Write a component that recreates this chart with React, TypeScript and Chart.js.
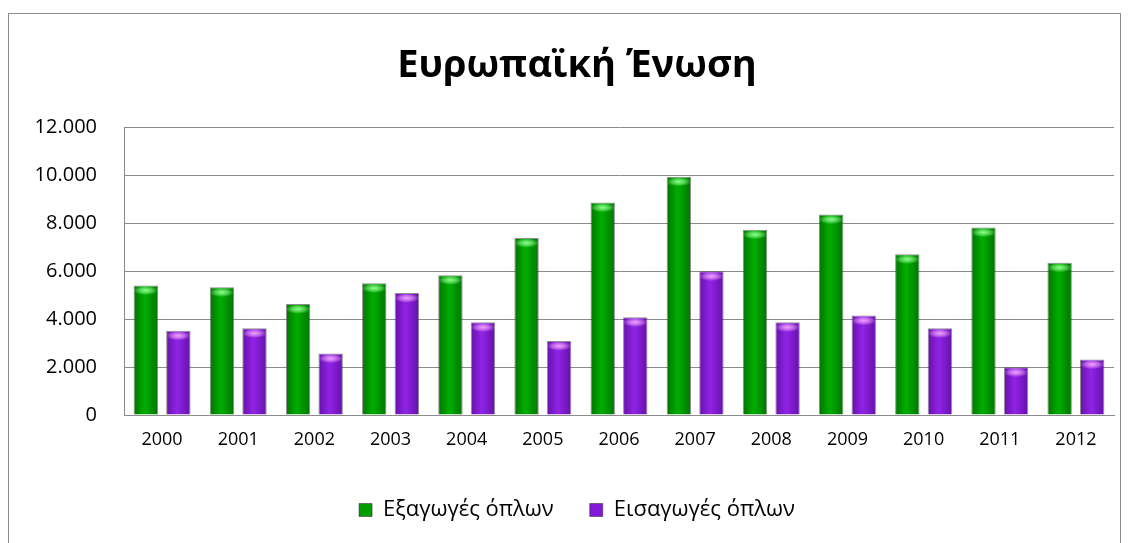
import React, { useEffect, useRef } from "react";
import { Chart, registerables } from "chart.js";

Chart.register(...registerables);

const TITLE = "Ευρωπαϊκή Ένωση";
const YEARS = ["2000", "2001", "2002", "2003", "2004", "2005", "2006", "2007", "2008", "2009", "2010", "2011", "2012"];
const EXPORTS = [5410, 5330, 4630, 5500, 5840, 7390, 8870, 9950, 7740, 8370, 6710, 7830, 6360];
const IMPORTS = [3520, 3620, 2570, 5090, 3870, 3090, 4080, 6000, 3870, 4150, 3620, 1990, 2320];
const SERIES_NAMES = ["Εξαγωγές όπλων", "Εισαγωγές όπλων"];
const Y_MAX = 12000;
const Y_STEP = 2000;

const PALETTES = [
  { base: "#009c00", edge: "#007400", mid: "#00ae00", cap: "#8cff8c" },
  { base: "#8418d8", edge: "#6610aa", mid: "#9024e6", cap: "#f0a0ff" },
];

const FONT = "'Open Sans', 'DejaVu Sans', sans-serif";
const CENTER_SHIFT = 16;

const fmt = (v: number) => {
  const s = Math.round(v).toString();
  return s.replace(/\B(?=(\d{3})+(?!\d))/g, ".");
};

const stylePlugin = {
  id: "styleBars",
  afterLayout(chart: any) {
    const boxes = [chart.titleBlock, chart.legend];
    boxes.forEach((b: any) => {
      if (b) {
        b.left += CENTER_SHIFT;
        b.right += CENTER_SHIFT;
      }
    });
  },
  beforeDraw(chart: any) {
    const ctx = chart.ctx;
    ctx.save();
    ctx.fillStyle = "#ffffff";
    ctx.fillRect(0, 0, chart.width, chart.height);
    ctx.strokeStyle = "#8c8c8c";
    ctx.lineWidth = 1;
    ctx.strokeRect(8.5, 13.5, 1112, 600);
    ctx.restore();
  },
  beforeDatasetsDraw(chart: any) {
    const ctx = chart.ctx;
    chart.data.datasets.forEach((_ds: any, i: number) => {
      const meta = chart.getDatasetMeta(i);
      const pal = PALETTES[i];
      meta.data.forEach((el: any) => {
        const { x, width } = el.getProps(["x", "width"], true);
        const g = ctx.createLinearGradient(x - width / 2, 0, x + width / 2, 0);
        g.addColorStop(0, pal.edge);
        g.addColorStop(0.45, pal.mid);
        g.addColorStop(1, pal.edge);
        el.options.backgroundColor = g;
      });
    });
  },
  afterDatasetsDraw(chart: any) {
    const ctx = chart.ctx;
    chart.data.datasets.forEach((_ds: any, i: number) => {
      const meta = chart.getDatasetMeta(i);
      const pal = PALETTES[i];
      meta.data.forEach((el: any) => {
        const { x, y, width } = el.getProps(["x", "y", "width"], true);
        const left = x - width / 2 + 1;
        const w = width - 2;
        ctx.save();
        ctx.beginPath();
        ctx.rect(left, y + 1, w, 14);
        ctx.clip();
        ctx.translate(x, y + 5);
        ctx.scale(1, 0.38);
        const hg = ctx.createRadialGradient(0, 0, 0, 0, 0, w * 0.55);
        hg.addColorStop(0, pal.cap);
        hg.addColorStop(0.55, pal.cap + "88");
        hg.addColorStop(1, pal.cap + "00");
        ctx.fillStyle = hg;
        ctx.fillRect(-w, -w, 2 * w, 2 * w);
        ctx.restore();
      });
    });
  },
};

export default function App() {
  const ref = useRef<HTMLCanvasElement | null>(null);
  useEffect(() => {
    document.body.style.margin = "0";
    const canvas = ref.current!;
    const chart = new Chart(canvas, {
      type: "bar",
      data: {
        labels: YEARS,
        datasets: [
          {
            label: SERIES_NAMES[0],
            data: EXPORTS,
            backgroundColor: () => PALETTES[0].base,
            borderColor: "rgba(50,50,50,0.55)",
            borderWidth: 1,
            borderSkipped: "bottom",
            barPercentage: 0.75,
            categoryPercentage: 0.855,
          },
          {
            label: SERIES_NAMES[1],
            data: IMPORTS,
            backgroundColor: () => PALETTES[1].base,
            borderColor: "rgba(50,50,50,0.55)",
            borderWidth: 1,
            borderSkipped: "bottom",
            barPercentage: 0.75,
            categoryPercentage: 0.855,
          },
        ],
      },
      options: {
        animation: false,
        responsive: false,
        maintainAspectRatio: false,
        devicePixelRatio: 1,
        layout: { padding: { left: 8, right: 15, top: 0, bottom: 12 } },
        plugins: {
          title: {
            display: true,
            text: TITLE,
            color: "#000",
            font: { family: FONT, size: 38, weight: "bold" },
            padding: { top: 43, bottom: 39 },
          },
          legend: {
            position: "bottom",
            labels: {
              color: "#000",
              font: { family: FONT, size: 22 },
              boxWidth: 13,
              boxHeight: 13,
              padding: 36,
            },
          },
          tooltip: { enabled: false },
        },
        scales: {
          x: {
            grid: { display: false, drawTicks: false },
            border: { display: true, color: "#8c8c8c", width: 1 },
            ticks: { color: "#000", font: { family: FONT, size: 18 }, padding: 14, maxRotation: 0 },
            afterFit: (s: any) => {
              s.height = 48;
            },
          },
          y: {
            min: 0,
            max: Y_MAX,
            grid: { color: "#8c8c8c", drawTicks: false },
            border: { display: true, color: "#8c8c8c", width: 1 },
            ticks: {
              stepSize: Y_STEP,
              color: "#000",
              font: { family: FONT, size: 20 },
              padding: 27,
              callback: (v: any) => fmt(Number(v)),
            },
            afterFit: (s: any) => {
              s.width = 116;
            },
          },
        },
      },
      plugins: [stylePlugin],
    });
    return () => chart.destroy();
  }, []);
  return (
    <div style={{ position: "fixed", left: 0, top: 0, width: 1129, height: 543 }}>
      <canvas ref={ref} width={1129} height={543} style={{ width: 1129, height: 543, display: "block" }} />
    </div>
  );
}
